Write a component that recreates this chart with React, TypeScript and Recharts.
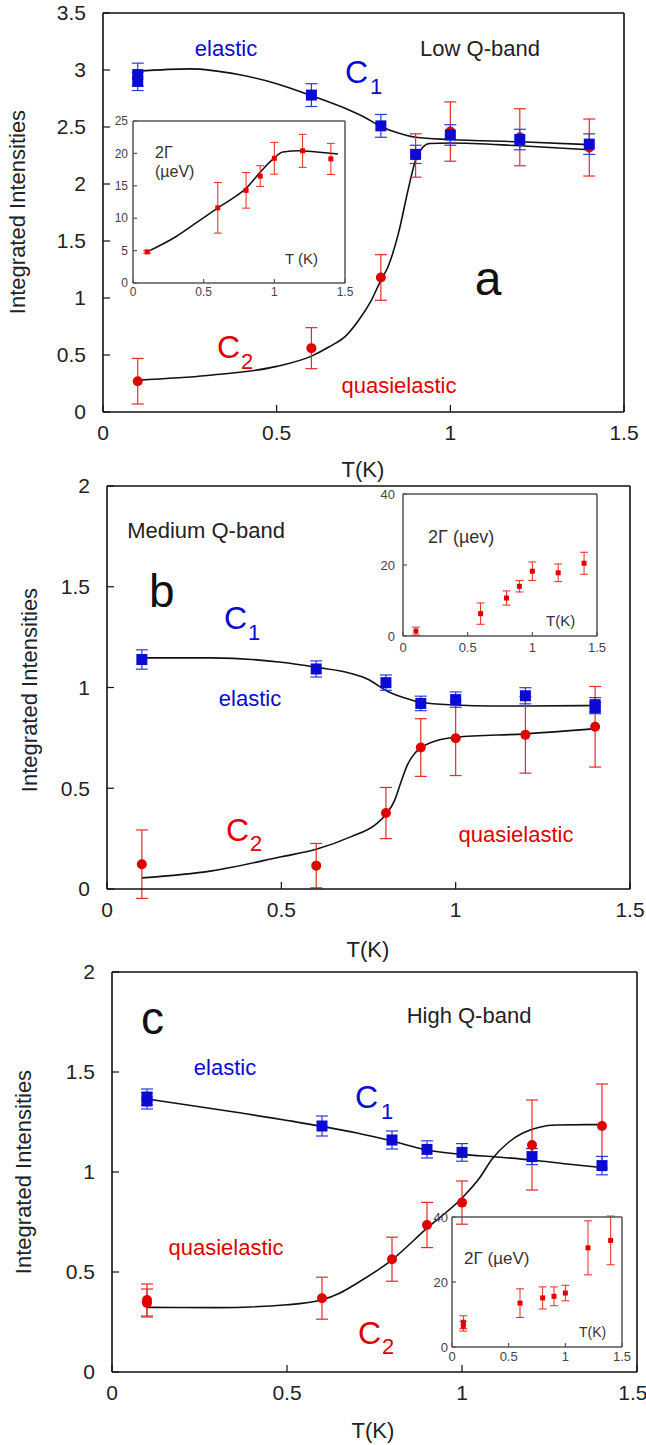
import React from 'react';
import { ComposedChart, Scatter, Line, XAxis, YAxis, ErrorBar } from 'recharts';

const FONT = '"Liberation Sans", Arial, Helvetica, sans-serif';
const BLUE = '#0a0ad2';
const RED = '#e00000';
const REDBAR = '#e42a2a';
const BLUEBAR = '#2a3ae0';

// ---------- Panel a (Low Q-band) ----------
const tA1 = [0.1, 0.1, 0.6, 0.8, 0.9, 1.0, 1.2, 1.4];
const c1A = [2.96, 2.90, 2.78, 2.51, 2.26, 2.43, 2.39, 2.35];
const c1AErr = [0.1, 0.08, 0.1, 0.1, 0.08, 0.09, 0.09, 0.09];
const tA2 = [0.1, 0.6, 0.8, 0.9, 1.0, 1.2, 1.4];
const c2A = [0.27, 0.56, 1.18, 2.25, 2.46, 2.41, 2.32];
const c2AErr = [0.2, 0.18, 0.2, 0.19, 0.26, 0.25, 0.25];
const fitTA1 = [0.1, 0.25, 0.39, 0.5, 0.6, 0.7, 0.75, 0.8, 0.85, 0.9, 1.0, 1.2, 1.4];
const fitA1 = [2.99, 3.01, 2.96, 2.88, 2.775, 2.66, 2.59, 2.505, 2.447, 2.41, 2.39, 2.37, 2.345];
const fitTA2 = [0.1, 0.3, 0.5, 0.6, 0.65, 0.7, 0.735, 0.77, 0.8, 0.82, 0.85, 0.88, 0.9, 0.92, 0.94, 1.0, 1.2, 1.4];
const fitA2 = [0.28, 0.32, 0.4, 0.49, 0.57, 0.67, 0.8, 0.965, 1.155, 1.27, 1.56, 1.97, 2.21, 2.32, 2.355, 2.36, 2.335, 2.3];
// inset a : 2Gamma
const tIA = [0.1, 0.6, 0.8, 0.9, 1.0, 1.2, 1.4];
const gA = [4.8, 11.6, 14.3, 16.5, 19.25, 20.4, 19.15];
const gAErr = [0.2, 3.9, 2.75, 1.6, 2.45, 2.55, 2.4];
const fitTIA = [0.1, 0.3, 0.5, 0.6, 0.7, 0.8, 0.9, 1.0, 1.06, 1.18, 1.3, 1.45];
const fitIA = [4.8, 7.1, 10.1, 11.6, 13.0, 14.6, 17.1, 19.3, 20.2, 20.4, 20.2, 19.9];

// ---------- Panel b (Medium Q-band) ----------
const tB1 = [0.1, 0.6, 0.8, 0.9, 1.0, 1.2, 1.4, 1.4];
const c1B = [1.139, 1.092, 1.024, 0.921, 0.94, 0.959, 0.915, 0.9];
const c1BErr = [0.048, 0.04, 0.038, 0.036, 0.038, 0.04, 0.035, 0.03];
const tB2 = [0.1, 0.6, 0.8, 0.9, 1.0, 1.2, 1.4];
const c2B = [0.123, 0.116, 0.377, 0.702, 0.748, 0.765, 0.805];
const c2BErr = [0.17, 0.11, 0.127, 0.143, 0.185, 0.19, 0.2];
const fitTB1 = [0.1, 0.3, 0.5, 0.6, 0.7, 0.75, 0.8, 0.85, 0.9, 1.0, 1.1, 1.2, 1.4];
const fitB1 = [1.147, 1.147, 1.125, 1.1, 1.07, 1.04, 0.985, 0.95, 0.927, 0.913, 0.908, 0.908, 0.911];
const fitTB2 = [0.1, 0.3, 0.5, 0.6, 0.7, 0.77, 0.8, 0.825, 0.843, 0.86, 0.884, 0.908, 0.944, 1.0, 1.2, 1.4];
const fitB2 = [0.055, 0.09, 0.16, 0.197, 0.26, 0.32, 0.37, 0.44, 0.53, 0.61, 0.676, 0.71, 0.736, 0.753, 0.77, 0.796];
const tIB = [0.1, 0.6, 0.8, 0.9, 1.0, 1.2, 1.4];
const gB = [1.4, 6.3, 10.7, 14.0, 18.25, 17.8, 20.5];
const gBErr = [1.1, 3.0, 2.0, 1.6, 2.6, 2.5, 3.1];

// ---------- Panel c (High Q-band) ----------
const tC1 = [0.1, 0.1, 0.6, 0.8, 0.9, 1.0, 1.2, 1.4];
const c1C = [1.375, 1.355, 1.23, 1.16, 1.113, 1.098, 1.077, 1.032];
const c1CErr = [0.04, 0.04, 0.05, 0.045, 0.043, 0.044, 0.04, 0.046];
const tC2 = [0.1, 0.1, 0.6, 0.8, 0.9, 1.0, 1.2, 1.4];
const c2C = [0.36, 0.345, 0.369, 0.564, 0.735, 0.847, 1.135, 1.23];
const c2CErr = [0.08, 0.07, 0.105, 0.11, 0.113, 0.108, 0.225, 0.21];
const fitTC1 = [0.1, 0.35, 0.6, 0.7, 0.8, 0.9, 1.0, 1.1, 1.2, 1.3, 1.4];
const fitC1 = [1.365, 1.3, 1.228, 1.195, 1.155, 1.11, 1.088, 1.075, 1.06, 1.04, 1.022];
const fitTC2 = [0.1, 0.3, 0.5, 0.6, 0.65, 0.7, 0.8, 0.9, 1.0, 1.05, 1.086, 1.134, 1.174, 1.27, 1.4];
const fitC2 = [0.323, 0.322, 0.336, 0.361, 0.394, 0.444, 0.561, 0.719, 0.87, 0.97, 1.065, 1.15, 1.195, 1.235, 1.237];
const tIC = [0.1, 0.1, 0.6, 0.8, 0.9, 1.0, 1.2, 1.4];
const gC = [7.6, 6.4, 13.5, 15.1, 15.6, 16.6, 30.5, 32.8];
const gCErr = [2.0, 1.5, 4.4, 3.4, 2.9, 2.4, 8.3, 7.5];

const xTicks = [0, 0.5, 1, 1.5];

const rows = (xs: number[], ys: number[], es?: number[]) =>
  xs.map((x, i) => ({ x, y: ys[i], e: es ? es[i] : 0 }));

const square = (size: number, fill: string) => (p: any) =>
  <rect x={p.cx - size / 2} y={p.cy - size / 2} width={size} height={size} fill={fill} />;
const circle = (r: number, fill: string) => (p: any) =>
  <circle cx={p.cx} cy={p.cy} r={r} fill={fill} />;

function frame(opts: {
  yDomain: [number, number]; yTicks: number[]; tick: number; fs: number; xm: number; ym: number; stroke: string; sw: number; color: string;
}) {
  const { yDomain, yTicks, tick, fs, xm, ym, stroke, sw, color } = opts;
  const tickStyle = { fill: color, fontSize: fs, fontFamily: FONT };
  return [
    <XAxis key="xb" dataKey="x" type="number" domain={[0, 1.5]} ticks={xTicks} height={1} allowDataOverflow
      tickSize={-tick} tickMargin={xm} axisLine={{ stroke, strokeWidth: sw }} tickLine={{ stroke, strokeWidth: 1.2 }} tick={tickStyle} />,
    <XAxis key="xt" xAxisId="top" orientation="top" dataKey="x" type="number" domain={[0, 1.5]} ticks={xTicks} height={1} allowDataOverflow
      tickSize={-tick} axisLine={{ stroke, strokeWidth: sw }} tickLine={{ stroke, strokeWidth: 1.2 }} tick={false} />,
    <YAxis key="yl" type="number" domain={yDomain} ticks={yTicks} width={1} allowDataOverflow
      tickSize={-tick} tickMargin={ym} axisLine={{ stroke, strokeWidth: sw }} tickLine={{ stroke, strokeWidth: 1.2 }} tick={tickStyle} />,
    <YAxis key="yr" yAxisId="right" orientation="right" type="number" domain={yDomain} ticks={yTicks} width={1} allowDataOverflow
      tickSize={-tick} axisLine={{ stroke, strokeWidth: sw }} tickLine={{ stroke, strokeWidth: 1.2 }} tick={false} />,
  ];
}

// margin here = desired plot-area offsets; 1px is handed to each axis
const m = (t: number, l: number, r: number, b: number) => ({ top: t - 1, left: l - 1, right: r - 1, bottom: b - 1 });

function MainPanel(props: {
  top: number; height: number; margin: any; yMax: number; yTicks: number[];
  fit1: any[]; fit2: any[]; d1: any[]; d2: any[];
}) {
  const { top, height, margin, yMax, yTicks, fit1, fit2, d1, d2 } = props;
  return (
    <div style={{ position: 'absolute', left: 0, top }}>
      <ComposedChart width={646} height={height} margin={margin}>
        {frame({ yDomain: [0, yMax], yTicks, tick: 7, fs: 21, xm: 20, ym: 24, stroke: '#111', sw: 1.6, color: '#222' })}
        <Line data={fit1} dataKey="y" type="monotone" stroke="#111" strokeWidth={1.6} dot={false} activeDot={false} isAnimationActive={false} />
        <Line data={fit2} dataKey="y" type="monotone" stroke="#111" strokeWidth={1.6} dot={false} activeDot={false} isAnimationActive={false} />
        <Scatter data={d2} dataKey="y" shape={circle(5, RED)} isAnimationActive={false}>
          <ErrorBar dataKey="e" direction="y" width={6} stroke={REDBAR} strokeWidth={1.2} />
        </Scatter>
        <Scatter data={d1} dataKey="y" shape={square(11, BLUE)} isAnimationActive={false}>
          <ErrorBar dataKey="e" direction="y" width={6} stroke={BLUEBAR} strokeWidth={1.2} />
        </Scatter>
      </ComposedChart>
    </div>
  );
}

function Inset(props: {
  left: number; top: number; width: number; height: number; margin: any; yMax: number; yTicks: number[];
  fs: number; xm: number; ym: number; data: any[]; fit?: any[];
}) {
  const { left, top, width, height, margin, yMax, yTicks, fs, xm, ym, data, fit } = props;
  return (
    <div style={{ position: 'absolute', left, top, pointerEvents: 'none' }}>
      <ComposedChart width={width} height={height} margin={margin}>
        {frame({ yDomain: [0, yMax], yTicks, tick: 4, fs, xm, ym, stroke: '#555', sw: 1.5, color: '#444' })}
        {fit ? <Line data={fit} dataKey="y" type="monotone" stroke="#111" strokeWidth={1.5} dot={false} activeDot={false} isAnimationActive={false} /> : null}
        <Scatter data={data} dataKey="y" shape={square(5, RED)} isAnimationActive={false}>
          <ErrorBar dataKey="e" direction="y" width={4} stroke={REDBAR} strokeWidth={1} />
        </Scatter>
      </ComposedChart>
    </div>
  );
}

const Txt = (p: { x: number; y: number; s: number; c: string; a?: string; children: React.ReactNode; r?: boolean }) => (
  <text x={p.x} y={p.y} fontSize={p.s} fill={p.c} textAnchor={(p.a || 'start') as any} dominantBaseline="central"
    fontFamily={FONT} transform={p.r ? `rotate(-90 ${p.x} ${p.y})` : undefined}>{p.children}</text>
);

export default function App() {
  return (
    <div style={{ position: 'absolute', left: 0, top: 0, width: 646, height: 1445, background: '#fff', overflow: 'hidden' }}>
      <MainPanel top={0} height={480} margin={m(13, 103, 22, 68)} yMax={3.5}
        yTicks={[0, 0.5, 1, 1.5, 2, 2.5, 3, 3.5]}
        fit1={rows(fitTA1, fitA1)} fit2={rows(fitTA2, fitA2)} d1={rows(tA1, c1A, c1AErr)} d2={rows(tA2, c2A, c2AErr)} />
      <MainPanel top={470} height={490} margin={m(16, 107, 16, 71)} yMax={2}
        yTicks={[0, 0.5, 1, 1.5, 2]}
        fit1={rows(fitTB1, fitB1)} fit2={rows(fitTB2, fitB2)} d1={rows(tB1, c1B, c1BErr)} d2={rows(tB2, c2B, c2BErr)} />
      <MainPanel top={950} height={495} margin={m(22, 112, 9, 73)} yMax={2}
        yTicks={[0, 0.5, 1, 1.5, 2]}
        fit1={rows(fitTC1, fitC1)} fit2={rows(fitTC2, fitC2)} d1={rows(tC1, c1C, c1CErr)} d2={rows(tC2, c2C, c2CErr)} />

      <Inset left={100} top={105} width={260} height={200} margin={m(16, 33, 15, 22)}
        yMax={25} yTicks={[0, 5, 10, 15, 20, 25]} fs={12} xm={8} ym={9}
        data={rows(tIA, gA, gAErr)} fit={rows(fitTIA, fitIA)} />
      <Inset left={370} top={480} width={276} height={180} margin={m(14, 33, 49, 24)}
        yMax={40} yTicks={[0, 20, 40]} fs={13} xm={11} ym={12}
        data={rows(tIB, gB, gBErr)} />
      <Inset left={420} top={1200} width={226} height={175} margin={m(17, 32, 24, 28)}
        yMax={40} yTicks={[0, 20, 40]} fs={13} xm={9} ym={8}
        data={rows(tIC, gC, gCErr)} />

      <svg width={646} height={1445} style={{ position: 'absolute', left: 0, top: 0, pointerEvents: 'none' }}>
        {/* panel a */}
        <Txt x={17} y={212} s={22} c="#222" a="middle" r>Integrated Intensities</Txt>
        <Txt x={363} y={469} s={22} c="#222" a="middle">T(K)</Txt>
        <Txt x={226} y={48} s={22} c={BLUE} a="middle">elastic</Txt>
        <Txt x={480} y={48} s={22} c="#222" a="middle">Low Q-band</Txt>
        <Txt x={345} y={72} s={32} c={BLUE}>C</Txt>
        <Txt x={370} y={86} s={22} c={BLUE}>1</Txt>
        <Txt x={488} y={278} s={48} c="#111" a="middle">a</Txt>
        <Txt x={217} y={347} s={32} c={RED}>C</Txt>
        <Txt x={241} y={361} s={22} c={RED}>2</Txt>
        <Txt x={399} y={385} s={22} c={RED} a="middle">quasielastic</Txt>
        <Txt x={155} y={152} s={16} c="#333">2Γ</Txt>
        <Txt x={155} y={171} s={16} c="#333">(µeV)</Txt>
        <Txt x={285} y={258} s={15} c="#333">T (K)</Txt>

        {/* panel b */}
        <Txt x={29} y={690} s={22} c="#222" a="middle" r>Integrated Intensities</Txt>
        <Txt x={368} y={949} s={22} c="#222" a="middle">T(K)</Txt>
        <Txt x={206} y={530} s={22} c="#222" a="middle">Medium Q-band</Txt>
        <Txt x={149} y={591} s={46} c="#111">b</Txt>
        <Txt x={224} y={618} s={32} c={BLUE}>C</Txt>
        <Txt x={248} y={632} s={22} c={BLUE}>1</Txt>
        <Txt x={250} y={698} s={22} c={BLUE} a="middle">elastic</Txt>
        <Txt x={226} y={830} s={32} c={RED}>C</Txt>
        <Txt x={250} y={843} s={22} c={RED}>2</Txt>
        <Txt x={516} y={834} s={22} c={RED} a="middle">quasielastic</Txt>
        <Txt x={428} y={537} s={18} c="#333">2Γ (µev)</Txt>
        <Txt x={546} y={620} s={15} c="#333">T(K)</Txt>

        {/* panel c */}
        <Txt x={23} y={1172} s={22} c="#222" a="middle" r>Integrated Intensities</Txt>
        <Txt x={373} y={1430} s={22} c="#222" a="middle">T(K)</Txt>
        <Txt x={141} y={1018} s={46} c="#111">c</Txt>
        <Txt x={469} y={1015} s={22} c="#222" a="middle">High Q-band</Txt>
        <Txt x={225} y={1067} s={22} c={BLUE} a="middle">elastic</Txt>
        <Txt x={355} y={1097} s={32} c={BLUE}>C</Txt>
        <Txt x={381} y={1111} s={22} c={BLUE}>1</Txt>
        <Txt x={226} y={1247} s={22} c={RED} a="middle">quasielastic</Txt>
        <Txt x={358} y={1333} s={32} c={RED}>C</Txt>
        <Txt x={382} y={1346} s={22} c={RED}>2</Txt>
        <Txt x={464} y={1258} s={17} c="#333">2Γ (µeV)</Txt>
        <Txt x={579} y={1332} s={14} c="#333">T(K)</Txt>
      </svg>
    </div>
  );
}
